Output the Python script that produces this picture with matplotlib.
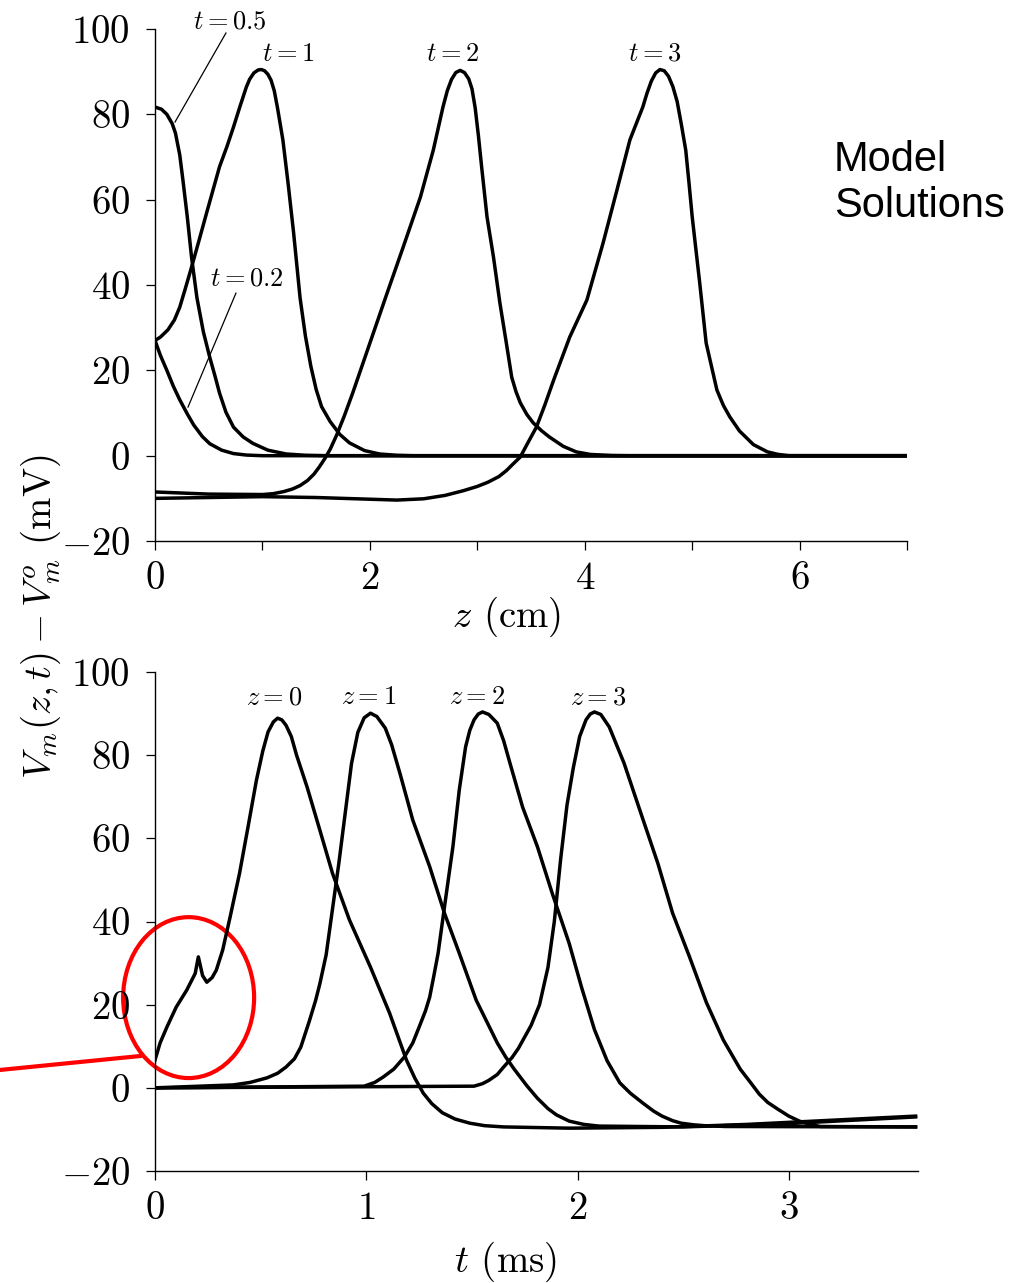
import matplotlib
matplotlib.use('Agg')
import matplotlib.pyplot as plt
from matplotlib.patches import Ellipse
from matplotlib.ticker import MultipleLocator, FuncFormatter

plt.rcParams['font.family'] = 'serif'
plt.rcParams['font.serif'] = ['cmr10']
plt.rcParams['mathtext.fontset'] = 'cm'
plt.rcParams['axes.formatter.use_mathtext'] = True

# ---- top panel: V vs z (cm) at fixed t (ms) ----
z_t02 = [0, 0.05, 0.11, 0.17, 0.23, 0.30, 0.36, 0.44, 0.51, 0.62, 0.73, 0.85, 1.0, 1.3, 7.0]
v_t02 = [27, 23.5, 20.0, 16.3, 13.1, 9.8, 7.2, 4.5, 2.8, 1.3, 0.5, 0.15, 0, 0, 0]

z_t05 = [0, 0.06, 0.11, 0.16, 0.19, 0.23, 0.26, 0.30, 0.34, 0.39, 0.45, 0.51, 0.56, 0.60,
         0.66, 0.73, 0.82, 0.91, 1.05, 1.22, 1.4, 1.6, 7.0]
v_t05 = [81.7, 81.2, 80.0, 77.8, 75.6, 70.5, 64.5, 56.0, 46.5, 37.0, 29.0, 23.0, 18.5, 14.7,
         10.2, 6.7, 4.4, 2.9, 1.3, 0.4, 0.1, 0, 0]

z_t1 = [0, 0.05, 0.12, 0.18, 0.23, 0.28, 0.34, 0.41, 0.48, 0.54, 0.60, 0.67, 0.73, 0.79, 0.85,
        0.88, 0.92, 0.96, 0.99, 1.02, 1.05, 1.08, 1.11, 1.14, 1.19, 1.24, 1.29, 1.35, 1.40, 1.45,
        1.50, 1.55, 1.63, 1.72, 1.81, 1.95, 2.09, 2.25, 2.4, 7.0]
v_t1 = [27, 27.8, 29.5, 31.8, 34.8, 39.0, 44.2, 50.5, 56.9, 62.3, 67.7, 72.5, 77.0, 81.8, 86.4,
        88.2, 89.7, 90.4, 90.5, 90.2, 89.4, 88.0, 85.5, 81.5, 74.0, 63.5, 52.2, 37.0, 28.0, 21.0,
        15.5, 11.5, 8.0, 5.0, 3.0, 1.2, 0.4, 0.1, 0, 0]

z_t2 = [0, 0.5, 1.0, 1.1, 1.2, 1.28, 1.35, 1.42, 1.48, 1.53, 1.58, 1.63, 1.69, 1.76, 1.84, 2.0,
        2.16, 2.31, 2.47, 2.59, 2.68, 2.72, 2.76, 2.80, 2.84, 2.88, 2.92, 2.95, 2.98, 3.01, 3.04,
        3.09, 3.15, 3.21, 3.27, 3.32, 3.36, 3.40, 3.46, 3.52, 3.60, 3.67, 3.80, 3.92, 4.05, 4.25,
        4.4, 7.0]
v_t2 = [-8.5, -9.0, -9.1, -8.9, -8.4, -7.8, -7.0, -5.8, -4.3, -2.6, -0.7, 1.5, 4.8, 9.2, 14.7, 26.4,
        38.1, 48.9, 60.6, 71.6, 81.7, 85.5, 88.2, 89.8, 90.3, 89.8, 88.3, 86.0, 81.5, 75.0, 67.7,
        56.0, 46.6, 35.8, 26.4, 18.4, 15.0, 12.4, 9.7, 7.7, 5.8, 4.4, 2.2, 0.9, 0.3, 0.05,
        0, 0]

z_t3 = [0, 0.5, 1.0, 1.5, 2.0, 2.25, 2.5, 2.7, 2.87, 3.0, 3.1, 3.2, 3.27, 3.33, 3.40, 3.47, 3.55,
        3.63, 3.71, 3.86, 4.02, 4.17, 4.30, 4.42, 4.54, 4.58, 4.62, 4.66, 4.70, 4.74, 4.78, 4.82,
        4.86, 4.90, 4.94, 4.97, 5.0, 5.07, 5.13, 5.23, 5.29, 5.35, 5.44, 5.57, 5.70, 5.80, 5.9,
        7.0]
v_t3 = [-10.0, -9.8, -9.6, -9.8, -10.2, -10.4, -10.1, -9.3, -8.2, -7.2, -6.2, -4.9, -3.5, -2.0,
        -0.3, 3.0, 6.7, 12.0, 17.7, 27.8, 36.5, 49.8, 62.3, 74.0, 81.7, 85.0, 87.8, 89.7, 90.5,
        90.2, 88.9, 86.5, 83.0, 77.5, 71.6, 64.0, 56.0, 40.5, 26.4, 15.4, 11.8, 9.1, 5.8, 2.6, 0.9,
        0.3, 0, 0]

top_curves = [(z_t02, v_t02), (z_t05, v_t05), (z_t1, v_t1), (z_t2, v_t2), (z_t3, v_t3)]
top_labels = [r'$t=0.5$', r'$t=1$', r'$t=2$', r'$t=3$', r'$t=0.2$']
top_label_pos = [(0.70, 100.2), (1.24, 92.5), (2.77, 92.5), (4.65, 92.5), (0.853, 40.0)]

# ---- bottom panel: V vs t (ms) at fixed z (cm) ----
t_z0 = [0, 0.024, 0.056, 0.10, 0.15, 0.19, 0.205, 0.225, 0.245, 0.27, 0.29, 0.32, 0.355, 0.40,
        0.44, 0.48, 0.51, 0.535, 0.56, 0.58, 0.60, 0.62, 0.645, 0.67, 0.72, 0.78, 0.84, 0.92, 1.02,
        1.11, 1.19, 1.23, 1.27, 1.31, 1.36, 1.42, 1.49, 1.56, 1.65, 1.96, 2.4, 2.8, 3.2, 3.6]
v_z0 = [6.7, 10.8, 14.6, 19.4, 23.5, 27.5, 31.5, 27.0, 25.4, 26.5, 28.3, 33.1, 41.0, 51.6,
        62.7, 74.0, 81.0, 85.6, 88.0, 88.9, 88.5, 87.2, 84.5, 80.0, 72.3, 62.0, 51.6, 40.4, 29.0,
        18.0, 6.7, 2.3, -1.3, -3.8, -6.0, -7.5, -8.5, -9.1, -9.4, -9.7, -9.5, -8.8, -7.8, -6.8]

t_z1 = [0, 0.37, 0.45, 0.53, 0.58, 0.62, 0.66, 0.69, 0.73, 0.76, 0.78, 0.81, 0.84, 0.87, 0.90,
        0.93, 0.96, 0.99, 1.02, 1.05, 1.09, 1.12, 1.16, 1.22, 1.30, 1.37, 1.44, 1.52, 1.62, 1.66,
        1.70, 1.76, 1.81, 1.86, 1.90, 1.96, 2.03, 2.1, 2.5, 3.0, 3.6]
v_z1 = [0, 0.7, 1.3, 2.4, 3.5, 5.0, 7.0, 9.8, 16.0, 21.0, 25.0, 32.0, 43.0, 54.0, 66.0,
        78.0, 85.5, 89.0, 90.1, 89.3, 86.5, 82.5, 75.5, 64.4, 53.2, 42.0, 32.4, 21.1, 10.8, 7.4,
        4.5, 0.5, -2.5, -5.0, -6.5, -8.0, -8.8, -9.2, -9.4, -8.6, -7.0]

t_z2 = [0, 0.99, 1.04, 1.08, 1.13, 1.18, 1.22, 1.25, 1.28, 1.30, 1.32, 1.34, 1.37, 1.41, 1.44,
        1.47, 1.49, 1.51, 1.53, 1.55, 1.58, 1.62, 1.65, 1.68, 1.74, 1.81, 1.88, 1.96, 2.02, 2.08,
        2.14, 2.2, 2.25, 2.31, 2.36, 2.4, 2.45, 2.49, 2.55, 2.6, 2.7, 3.6]
v_z2 = [0, 0.4, 1.3, 2.6, 4.5, 7.4, 10.8, 14.6, 18.5, 21.8, 27.0, 32.4, 43.5, 58.0, 71.6,
        82.0, 86.0, 88.5, 89.9, 90.4, 89.8, 87.7, 83.5, 78.1, 67.5, 58.0, 46.8, 34.8, 24.0, 14.0,
        6.5, 1.2, -1.3, -3.7, -5.6, -6.8, -7.9, -8.5, -8.9, -9.1, -9.3, -9.4]

t_z3 = [0, 1.51, 1.55, 1.58, 1.62, 1.65, 1.69, 1.72, 1.78, 1.82, 1.86, 1.89, 1.92, 1.95, 1.98,
        2.01, 2.04, 2.06, 2.08, 2.11, 2.15, 2.22, 2.30, 2.38, 2.45, 2.53, 2.61, 2.69, 2.77, 2.82,
        2.86, 2.90, 2.95, 3.0, 3.05, 3.10, 3.15, 3.6]
v_z3 = [0, 0.4, 1.0, 1.8, 3.2, 5.0, 7.3, 9.5, 15.0, 20.0, 29.0, 40.0, 55.0, 68.0, 77.0,
        84.5, 88.5, 89.9, 90.4, 89.8, 86.8, 78.1, 66.0, 54.0, 42.0, 31.5, 20.5, 11.5, 4.5, 1.2,
        -1.5, -3.5, -5.2, -6.8, -8.0, -8.8, -9.3, -9.4]

bot_curves = [(t_z0, v_z0), (t_z1, v_z1), (t_z2, v_z2), (t_z3, v_z3)]
bot_labels = [r'$z=0$', r'$z=1$', r'$z=2$', r'$z=3$']
bot_label_pos = [(0.563, 92.3), (1.013, 92.3), (1.523, 92.3), (2.095, 92.3)]

LW = 2.5
TICK_FS = 28
LABEL_FS = 19

fig = plt.figure(figsize=(10.12, 12.83), dpi=100)
ax1 = fig.add_axes([0.1532, 0.5783, 0.7431, 0.3991])
ax2 = fig.add_axes([0.1532, 0.0873, 0.7536, 0.3889])

for ax in (ax1, ax2):
    for side in ('top', 'right'):
        ax.spines[side].set_visible(False)
    for side in ('left', 'bottom'):
        ax.spines[side].set_linewidth(1.0)
    ax.tick_params(direction='out', length=6.5, width=0.9, labelsize=TICK_FS, pad=8)
    ax.tick_params(axis='y', pad=11.5)
    ax.set_ylim(-20, 100)
    ax.yaxis.set_major_locator(MultipleLocator(20))

# top panel
for x, y in top_curves:
    ax1.plot(x, y, color='black', lw=LW, solid_joinstyle='round')
ax1.set_xlim(0, 7)
ax1.xaxis.set_major_locator(MultipleLocator(1))
ax1.xaxis.set_major_formatter(FuncFormatter(
    lambda v, p: r'$\mathdefault{%d}$' % v if int(round(v)) % 2 == 0 else ''))
for s, (x, y) in zip(top_labels, top_label_pos):
    ax1.text(x, y, s, ha='center', va='baseline', fontsize=LABEL_FS)
# leader lines for the two crowded labels
ax1.plot([0.66, 0.186], [99.06, 78.2], color='black', lw=0.9, clip_on=False)
ax1.plot([0.753, 0.307], [38.1, 11.4], color='black', lw=0.9, clip_on=False)
ax1.set_xlabel(r'$z$ (cm)', fontsize=TICK_FS)
ax1.xaxis.set_label_coords(0.467, -0.105)

# bottom panel
for x, y in bot_curves:
    ax2.plot(x, y, color='black', lw=LW, solid_joinstyle='round')
ax2.set_xlim(0, 3.61)
ax2.xaxis.set_major_locator(MultipleLocator(1))
for s, (x, y) in zip(bot_labels, bot_label_pos):
    ax2.text(x, y, s, ha='center', va='baseline', fontsize=LABEL_FS)
ax2.set_xlabel(r'$t$ (ms)', fontsize=TICK_FS)
ax2.xaxis.set_label_coords(0.459, -0.138)

# red highlight of the stimulus artefact
ax2.add_patch(Ellipse((0.159, 21.7), 0.62, 38.7, fill=False, edgecolor='#ff0000',
                      lw=3.0, clip_on=False))
ax2.plot([-0.734, -0.071], [4.3, 7.65], color='#ff0000', lw=3.0, clip_on=False)

fig.text(0.04, 0.519, r'$V_m(z,t) - V_m^o$ (mV)', rotation=90, ha='center', va='center',
         fontsize=TICK_FS)
fig.text(0.824, 1 - 140 / 1283, 'Model\nSolutions', ha='left', va='top', fontsize=30,
         family=['Liberation Sans', 'DejaVu Sans'])

fig.savefig('out.png', dpi=100)
